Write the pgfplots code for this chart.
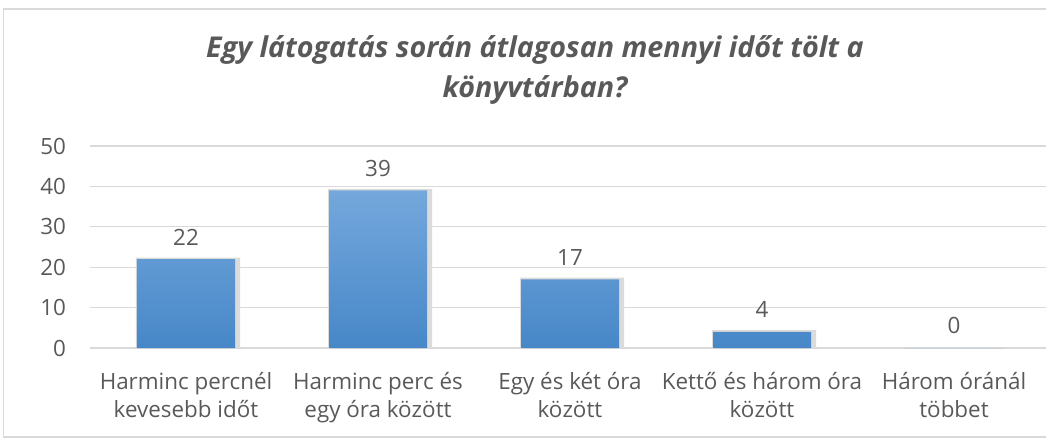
\documentclass[border=0pt]{standalone}
\usepackage{fontspec}
\setmainfont{Open Sans}
\usepackage{pgfplots}
\pgfplotsset{compat=1.18}
\definecolor{txt}{HTML}{595959}
\definecolor{gridc}{HTML}{D9D9D9}
\definecolor{bartop}{HTML}{74A8DC}
\definecolor{barmid}{HTML}{5B9BD5}
\definecolor{barbot}{HTML}{4787C8}
\newlength\px \setlength\px{0.75pt}

\begin{document}
\begin{tikzpicture}[x=\px,y=\px]
\useasboundingbox (0,0) rectangle (1046,440);
\clip (0,0) rectangle (1046,440);
\draw[gridc, line width=1.3\px] (3.5,3) rectangle (1070,431);
\node[txt, font=\fontsize{21.5}{30}\selectfont\bfseries\itshape, align=center] at (535,370)
  {Egy látogatás során átlagosan mennyi időt tölt a\\könyvtárban?};
\begin{axis}[
    at={(67.5pt,69pt)}, anchor=south west,
    width=720pt, height=151.5pt, scale only axis,
    xmin=-0.5, xmax=4.5, ymin=0, ymax=50,
    ytick={0,10,...,50},
    xtick={0,...,4},
    xticklabels={Harminc percnél\\kevesebb időt, Harminc perc és\\egy óra között, Egy és két óra\\között, Kettő és három óra\\között, Három óránál\\többet},
    axis line style={draw=none},
    major tick style={draw=none},
    ymajorgrids, grid style={gridc, line width=1.3\px},
    tick label style={txt, font=\fontsize{16.8}{20.5}\selectfont},
    xticklabel style={align=center, yshift=-15pt},
    yticklabel style={xshift=-14.5pt},
    /pgf/number format/assume math mode=true,
    clip=false,
  ]
  \addplot[ybar, bar width=78pt, bar shift=1.5pt, fill=black!14, draw=none]
    coordinates {(0,22.4) (1,39.4) (2,17.4) (3,4.4)};
  \addplot[ybar, bar width=73.5pt, bar shift=0pt, draw=none,
    top color=bartop, middle color=barmid, bottom color=barbot,
    nodes near coords,
    every node near coord/.append style={txt, font=\fontsize{16.8}{20}\selectfont, yshift=7pt},
    ]
    coordinates {(0,22) (1,39) (2,17) (3,4) (4,0)};
\end{axis}
\end{tikzpicture}
\end{document}
